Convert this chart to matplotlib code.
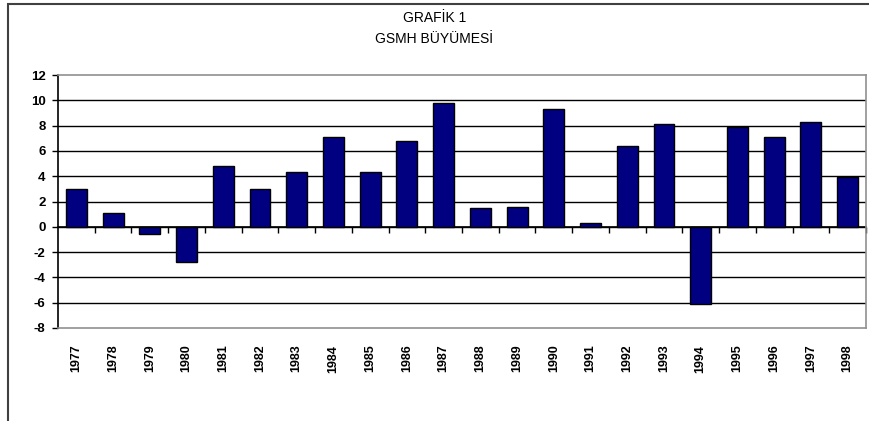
import matplotlib.pyplot as plt
from matplotlib.patches import Rectangle

years = ['1977', '1978', '1979', '1980', '1981', '1982', '1983', '1984', '1985', '1986', '1987',
         '1988', '1989', '1990', '1991', '1992', '1993', '1994', '1995', '1996', '1997', '1998']
growth = [3.0, 1.1, -0.6, -2.8, 4.8, 3.0, 4.3, 7.1, 4.3, 6.8, 9.8,
          1.5, 1.6, 9.3, 0.3, 6.4, 8.1, -6.1, 7.9, 7.1, 8.3, 3.9]

plt.rcParams['font.family'] = ['Liberation Sans', 'DejaVu Sans']
plt.rcParams['axes.unicode_minus'] = False

fig = plt.figure(figsize=(8.69, 4.21), dpi=100)
ax = fig.add_axes([58 / 869, 1 - 328 / 421, 808 / 869, 253 / 421])

x = list(range(len(years)))
ax.bar(x, growth, width=0.57, color='#000080', edgecolor='black', linewidth=1, zorder=3)

ax.set_xlim(-0.5, len(years) - 0.5)
ax.set_ylim(-8, 12)
ax.set_yticks(range(-8, 13, 2))
ax.tick_params(axis='y', direction='out', length=4, width=1, labelsize=9.5, pad=5)
for lbl in ax.get_yticklabels():
    lbl.set_fontweight('bold')

for v in range(-6, 12, 2):
    ax.axhline(v, color='black', linewidth=1, zorder=1)

ax.set_xticks(x)
ax.set_xticklabels(years, rotation=90, fontsize=9, fontweight='bold')
ax.tick_params(axis='x', length=0, pad=12)

for side in ['top', 'right', 'bottom']:
    ax.spines[side].set_color('#909090')
    ax.spines[side].set_linewidth(1.2)
ax.spines['left'].set_color('black')
ax.spines['left'].set_linewidth(1.2)

# category axis on the zero line with ticks between categories
sec = ax.secondary_xaxis(0.4)
sec.set_xticks([i + 0.5 for i in x])
sec.set_xticklabels([])
sec.tick_params(direction='out', length=4, width=1)
sec.spines['bottom'].set_color('black')
sec.spines['bottom'].set_linewidth(1.2)

fig.text(0.5, 1 - 18 / 421, 'GRAFİK 1', ha='center', va='center', fontsize=10)
fig.text(0.5, 1 - 39 / 421, 'GSMH BÜYÜMESİ', ha='center', va='center', fontsize=10)

fig.patches.append(Rectangle((8 / 869, -0.1), 1.2, 1.1 - 4 / 421, transform=fig.transFigure,
                             fill=False, edgecolor='#404040', linewidth=1.5))

fig.savefig('out.png', dpi=100)
